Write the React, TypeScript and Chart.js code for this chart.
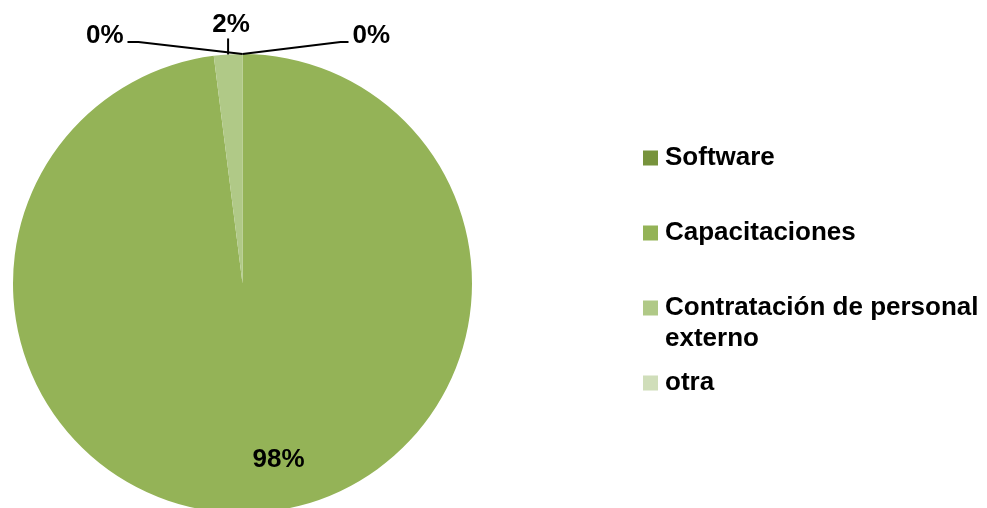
import React, { useEffect, useRef } from "react";
import { Chart, registerables } from "chart.js";

Chart.register(...registerables);

const categories = ["Software", "Capacitaciones", "Contratación de personal externo", "otra"];
const values = [0, 98, 2, 0];
const percentLabels = ["0%", "98%", "2%", "0%"];
const colors = ["#77933C", "#94B357", "#B0C987", "#D0DEBA"];

// label placement styling (relative to slice anchor points)
const placements = [
  { mode: "out", elbow: [98, -12], end: [106, -12], text: [110, -18], align: "left" },
  { mode: "in", frac: 0.77, text: [25, 0], align: "center" },
  { mode: "out", elbow: [0, -16], end: [0, -16], text: [3, -30], align: "center" },
  { mode: "out", elbow: [-104, -12], end: [-115, -12], text: [-119, -18], align: "right" },
];

const FONT = "bold 26px 'Liberation Sans', Arial, sans-serif";

const labelPlugin = {
  id: "pieLabels",
  afterDatasetsDraw(chart: any) {
    const ctx = chart.ctx;
    const meta = chart.getDatasetMeta(0);
    ctx.save();
    ctx.font = FONT;
    ctx.fillStyle = "#000";
    ctx.strokeStyle = "#000";
    ctx.lineWidth = 2;
    ctx.textBaseline = "middle";
    meta.data.forEach((arc: any, i: number) => {
      const p = placements[i];
      const { x, y, startAngle, endAngle, outerRadius } = arc.getProps(
        ["x", "y", "startAngle", "endAngle", "outerRadius"],
        true
      );
      const mid = (startAngle + endAngle) / 2;
      if (p.mode === "in") {
        const r = outerRadius * (p.frac as number);
        const ax = x + Math.cos(mid) * r;
        const ay = y + Math.sin(mid) * r;
        ctx.textAlign = "center";
        ctx.fillText(percentLabels[i], ax + p.text[0], ay + p.text[1]);
        return;
      }
      const ax = x + Math.cos(mid) * outerRadius;
      const ay = y + Math.sin(mid) * outerRadius;
      ctx.beginPath();
      ctx.moveTo(ax, ay);
      ctx.lineTo(ax + (p.elbow as number[])[0], ay + (p.elbow as number[])[1]);
      ctx.lineTo(ax + (p.end as number[])[0], ay + (p.end as number[])[1]);
      ctx.stroke();
      ctx.textAlign = p.align as CanvasTextAlign;
      ctx.fillText(percentLabels[i], ax + p.text[0], ay + p.text[1]);
    });
    ctx.restore();
  },
};

const legendPlugin = {
  id: "customLegend",
  afterDraw(chart: any) {
    const ctx = chart.ctx;
    const opts = chart.options.plugins.customLegend;
    const labels: string[] = chart.data.labels;
    const bg: string[] = chart.data.datasets[0].backgroundColor;
    ctx.save();
    ctx.font = FONT;
    ctx.textBaseline = "middle";
    ctx.textAlign = "left";
    const textX = opts.x + opts.box + opts.gap;
    const maxW = chart.width - textX - 2;
    labels.forEach((lab, i) => {
      const cy = opts.y + i * opts.step;
      ctx.fillStyle = bg[i];
      ctx.fillRect(opts.x, cy - opts.box / 2, opts.box, opts.box);
      ctx.fillStyle = "#000";
      const words = lab.split(" ");
      const lines: string[] = [];
      let cur = "";
      words.forEach((w) => {
        const test = cur ? cur + " " + w : w;
        if (ctx.measureText(test).width > maxW && cur) {
          lines.push(cur);
          cur = w;
        } else cur = test;
      });
      lines.push(cur);
      lines.forEach((ln, j) => ctx.fillText(ln, textX, cy + j * opts.lineH));
    });
    ctx.restore();
  },
};

export default function App() {
  const ref = useRef<HTMLCanvasElement>(null);
  useEffect(() => {
    if (!ref.current) return;
    const chart = new Chart(ref.current, {
      type: "pie",
      data: {
        labels: categories,
        datasets: [
          {
            data: values,
            backgroundColor: colors,
            borderWidth: 0,
          },
        ],
      },
      options: {
        responsive: false,
        animation: false,
        layout: { padding: { left: 13, top: 54, right: 515, bottom: 47 } },
        plugins: {
          legend: { display: false },
          tooltip: { enabled: false },
          customLegend: { x: 643, y: 158, step: 75, box: 15, gap: 7, lineH: 31 },
        } as any,
      },
      plugins: [labelPlugin, legendPlugin],
    });
    return () => chart.destroy();
  }, []);
  return (
    <div style={{ position: "absolute", left: 0, top: 0, width: 987, height: 508, overflow: "hidden", background: "#fff" }}>
      <canvas ref={ref} width={987} height={560} style={{ display: "block" }} />
    </div>
  );
}
